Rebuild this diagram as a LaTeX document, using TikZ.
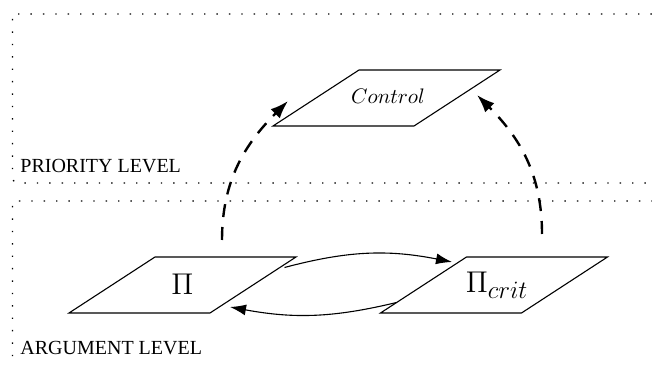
\RequirePackage{fix-cm}
\documentclass[tikz,border=0pt]{standalone}
\usepackage{fontspec}
\setmainfont{Liberation Serif}
\DeclareMathSizes{15}{15}{12.5}{10}
\usetikzlibrary{arrows.meta}
\tikzset{
  paratext/.style={inner sep=0pt},
  midtext/.style={paratext, font=\fontsize{10.5}{12.5}\selectfont},
  bigtext/.style={paratext, font=\fontsize{15}{18}\selectfont},
  paraline/.style={line width=0.55pt, line join=miter},
  levelbox/.style={line width=0.7pt, dash pattern=on 0.7pt off 5.5pt, rounded corners=2.5pt},
  levellabel/.style={anchor=base west, inner sep=0pt},
  dasharrow/.style={line width=1.2pt, dash pattern=on 6.5pt off 5pt, -{Latex[length=9pt,width=6.5pt]}},
  solidarrow/.style={line width=0.55pt, -{Latex[length=8pt,width=5.5pt]}}
}
\begin{document}
\begin{tikzpicture}[x=0.5pt,y=-0.5pt]
\useasboundingbox (0,0) rectangle (652,367);
\clip (0,0) rectangle (652,367);
% level frames
\draw[levelbox] (12.5,14) rectangle (690,183);
\draw[levelbox] (12.5,201) rectangle (690,420);
\node[levellabel] (prio) at (20,173) {PRIORITY LEVEL};
\node[levellabel] (arg) at (20,355) {ARGUMENT LEVEL};
% nodes
\node[midtext] (ctrl) at (388,96) {$Control$};
\node[bigtext] (pi) at (182.5,284) {$\Pi$};
\node[bigtext] (pic) at (497,285) {$\Pi_{crit}$};
\coordinate (ctrlc) at (386.5,98);
\coordinate (pic0) at (494,285);
% parallelograms
\draw[paraline] ([shift={(-113.5,28)}]ctrlc) -- ++(141,0) -- ++(86,-56) -- ++(-141,0) -- cycle;
\draw[paraline] ([shift={(-113.5,29)}]pi.center) -- ++(141,0) -- ++(86,-56) -- ++(-141,0) -- cycle;
\draw[paraline] ([shift={(-113.5,28)}]pic0) -- ++(141,0) -- ++(86,-56) -- ++(-141,0) -- cycle;
% connectors
\draw[dasharrow] ([shift={(39.5,-44)}]pi.center) to[out=90,in=225] ([shift={(-98.5,3)}]ctrlc);
\draw[dasharrow] ([shift={(48,-51)}]pic0) to[out=90,in=-45] ([shift={(90.5,-3)}]ctrlc);
\draw[solidarrow] ([shift={(102,-16.5)}]pi.center) to[bend left=13] ([shift={(-42,-23)}]pic0);
\draw[solidarrow] ([shift={(-97.5,17.5)}]pic0) to[bend left=12] ([shift={(47.5,23)}]pi.center);
\end{tikzpicture}
\end{document}
